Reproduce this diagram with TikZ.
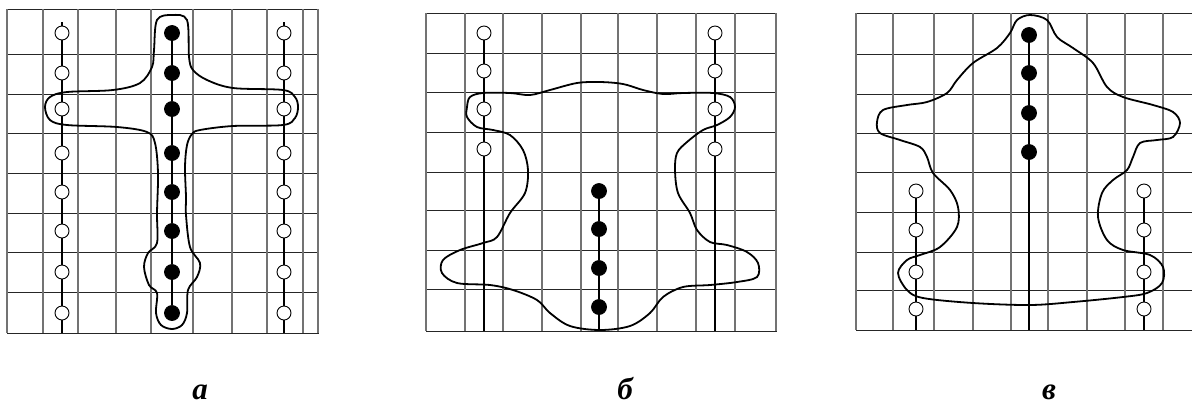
\documentclass[tikz,border=0pt]{standalone}
\usepackage{fontspec}
\setmainfont{Liberation Serif}
\tikzset{
  gridh/.style={draw=black!85,line width=0.5pt},
  gridv/.style={draw=black!55,line width=0.6pt},
  core/.style={line width=1pt},
  blob/.style={line width=0.9pt},
  open/.style={circle,draw,fill=white,inner sep=0pt,minimum size=7pt,line width=0.45pt},
  full/.style={circle,draw,fill=black,inner sep=0pt,minimum size=7.5pt},
  caption/.style={font=\bfseries\itshape\fontsize{15.5}{18}\selectfont,anchor=base}
}

\begin{document}
\begin{tikzpicture}[x=0.5pt,y=-0.5pt]
  \useasboundingbox (0,0) rectangle (1192,403);

  % panel a: grid
  \foreach \y in {9,54,94,133,173,213,252,292,333}
    \draw[gridh] (7,\y) -- (319,\y);
  \foreach \x in {7,43,78,116,151,193,232,267,303,318}
    \draw[gridv] (\x,9) -- (\x,333);
  % panel b: grid
  \foreach \y in {13,53,92,132,172,210,250,289,331}
    \draw[gridh] (426,\y) -- (777,\y);
  \foreach \x in {426,465,503,542,581,618,657,696,735,776}
    \draw[gridv] (\x,13) -- (\x,331);
  % panel c: grid
  \foreach \y in {13,54,94,133,172,212,252,290,330}
    \draw[gridh] (856,\y) -- (1192,\y);
  \foreach \x in {856,893,934,973,1011,1048,1087,1125,1163}
    \draw[gridv] (\x,13) -- (\x,330);

  % panel a: rows of cells
  \coordinate (tl) at (62,22);  \coordinate (bl) at (62,333);
  \coordinate (tr) at (284,22); \coordinate (br) at (284,333);
  \foreach \i/\y in {1/33,2/73,3/109,4/153,5/192,6/231,7/272,8/313} {
    \node[open] (l\i) at (62,\y) {};
    \node[full] (m\i) at (172,\y) {};
    \node[open] (r\i) at (284,\y) {};
  }
  \draw[core] (tl) -- (l1); \draw[core] (l8) -- (bl);
  \draw[core] (tr) -- (r1); \draw[core] (r8) -- (br);
  \foreach \i/\j in {1/2,2/3,3/4,4/5,5/6,6/7,7/8} {
    \draw[core] (l\i) -- (l\j);
    \draw[core] (m\i) -- (m\j);
    \draw[core] (r\i) -- (r\j);
  }
  \draw[blob] plot[smooth cycle,tension=0.55] coordinates {
    (172,15) (187,20) (189,57) (193,70) (207,80) (233,88) (283,90)
    (295,97) (298,107) (295,118) (283,125) (233,126) (200,130) (192,134)
    (187,145) (185,167) (186,197) (186,215) (190,247) (200,263) (197,277)
    (188,290) (187,313) (182,325) (172,329) (161,325) (156,313) (157,293)
    (149,285) (144,267) (148,253) (157,243) (157,213) (158,173) (155,143)
    (147,132) (117,127) (67,125) (50,120) (45,107) (50,97) (67,92)
    (113,90) (140,83) (152,67) (154,50) (157,20)};

  % panel b
  \coordinate (bbl) at (484,331); \coordinate (bbr) at (715,331);
  \coordinate (bbm) at (599,331);
  \foreach \i/\y in {1/33,2/71,3/109,4/149} {
    \node[open] (p\i) at (484,\y) {};
    \node[open] (q\i) at (715,\y) {};
  }
  \foreach \i/\y in {1/191,2/229,3/268,4/307}
    \node[full] (s\i) at (599,\y) {};
  \foreach \i/\j in {1/2,2/3,3/4} {
    \draw[core] (p\i) -- (p\j);
    \draw[core] (q\i) -- (q\j);
    \draw[core] (s\i) -- (s\j);
  }
  \draw[core] (p4) -- (bbl);
  \draw[core] (q4) -- (bbr);
  \draw[core] (s4) -- (bbm);
  \draw[blob] plot[smooth cycle,tension=0.55] coordinates {
    (467,107) (470,97) (483,93) (510,93) (530,95) (550,90) (577,83)
    (600,82) (623,84) (643,90) (663,94) (683,93) (713,93) (730,97)
    (735,107) (730,117) (717,125) (703,130) (687,142) (677,153) (675,170)
    (678,193) (690,213) (697,230) (710,242) (727,245) (747,252) (758,263)
    (757,277) (737,282) (710,285) (683,287) (663,297) (650,313) (630,326)
    (600,330) (570,326) (550,313) (537,300) (513,290) (490,285) (457,283)
    (442,273) (443,260) (460,250) (483,243) (497,237) (510,213) (525,193)
    (528,170) (523,150) (510,135) (493,130) (477,127) (467,117)};

  % panel c
  \coordinate (cbl) at (916,330); \coordinate (cbr) at (1144,330);
  \coordinate (cbm) at (1029,330);
  \foreach \i/\y in {1/35,2/73,3/113,4/152}
    \node[full] (u\i) at (1029,\y) {};
  \foreach \i/\y in {1/191,2/230,3/272,4/309} {
    \node[open] (v\i) at (916,\y) {};
    \node[open] (w\i) at (1144,\y) {};
  }
  \foreach \i/\j in {1/2,2/3,3/4} {
    \draw[core] (u\i) -- (u\j);
    \draw[core] (v\i) -- (v\j);
    \draw[core] (w\i) -- (w\j);
  }
  \draw[core] (u4) -- (cbm);
  \draw[core] (v4) -- (cbl);
  \draw[core] (w4) -- (cbr);
  \draw[blob] plot[smooth cycle,tension=0.55] coordinates {
    (1030,15) (1047,20) (1057,37) (1073,48) (1093,63) (1107,87) (1123,97)
    (1153,105) (1173,112) (1180,123) (1173,137) (1157,140) (1140,143)
    (1133,157) (1127,170) (1113,180) (1102,193) (1098,217) (1107,240)
    (1123,250) (1150,255) (1163,267) (1162,283) (1147,293) (1123,297)
    (1073,302) (1030,305) (973,303) (923,298) (907,290) (898,273)
    (907,260) (920,255) (940,247) (957,227) (958,207) (950,190) (933,173)
    (927,157) (920,147) (900,140) (880,133) (877,122) (883,110) (907,105)
    (927,102) (947,93) (957,80) (973,63) (997,48) (1010,33) (1017,20)};

  % captions
  \node[caption] (capa) at (200,399) {а};
  \node[caption] (capb) at (625,399) {б};
  \node[caption] (capc) at (1049,399) {в};
\end{tikzpicture}
\end{document}
